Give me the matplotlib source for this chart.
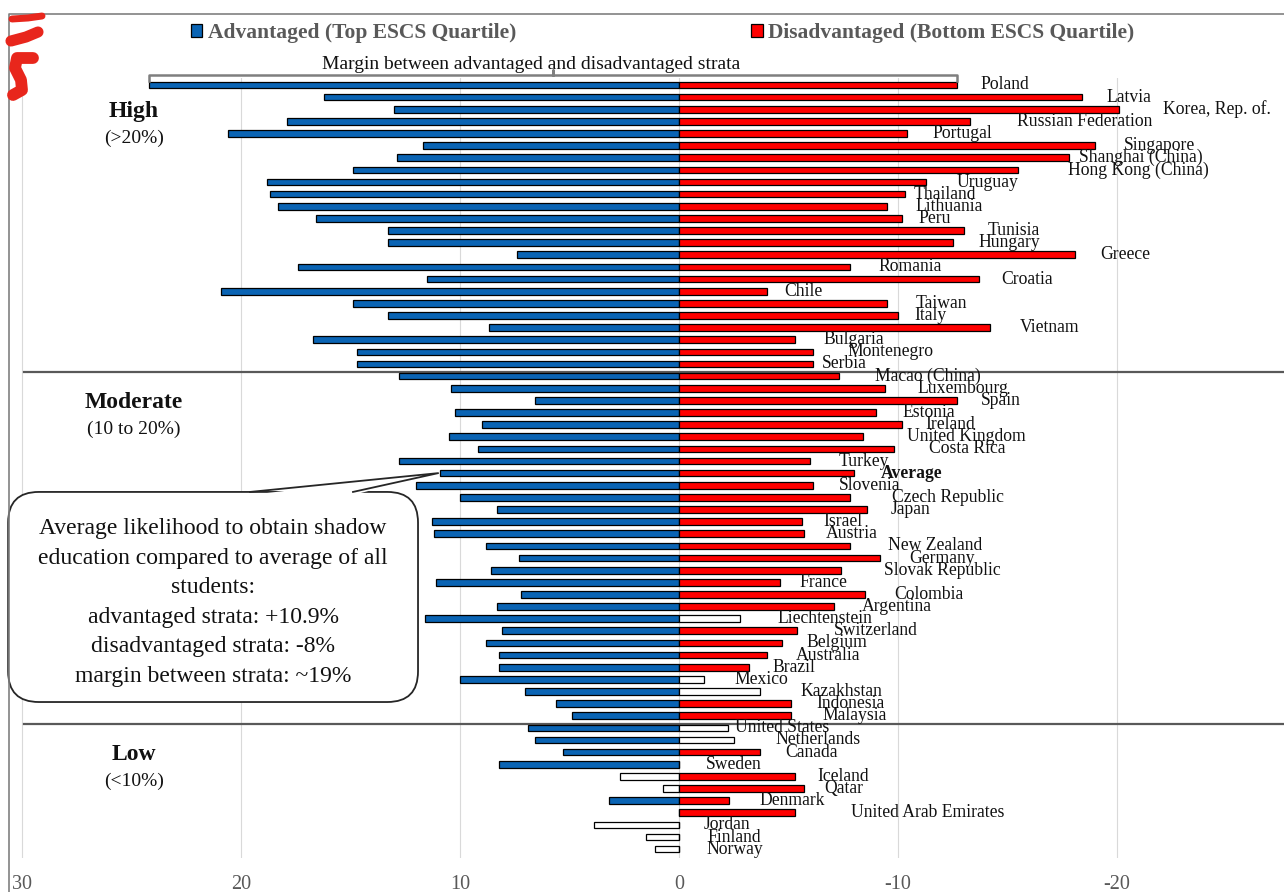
import numpy as np
import matplotlib.pyplot as plt
from matplotlib.patches import FancyBboxPatch, Polygon, Patch
from matplotlib.lines import Line2D

plt.rcParams['font.family'] = ['Liberation Serif', 'DejaVu Serif']

# likelihood of shadow education relative to all students (%), per stratum
countries = [
    "Poland", "Latvia", "Korea, Rep. of.", "Russian Federation", "Portugal",
    "Singapore", "Shanghai (China)", "Hong Kong (China)", "Uruguay", "Thailand",
    "Lithuania", "Peru", "Tunisia", "Hungary", "Greece", "Romania", "Croatia",
    "Chile", "Taiwan", "Italy", "Vietnam", "Bulgaria", "Montenegro", "Serbia",
    "Macao (China)", "Luxembourg", "Spain", "Estonia", "Ireland", "United Kingdom",
    "Costa Rica", "Turkey", "Average", "Slovenia", "Czech Republic", "Japan",
    "Israel", "Austria", "New Zealand", "Germany", "Slovak Republic", "France",
    "Colombia", "Argentina", "Liechtenstein", "Switzerland", "Belgium",
    "Australia", "Brazil", "Mexico", "Kazakhstan", "Indonesia", "Malaysia",
    "United States", "Netherlands", "Canada", "Sweden", "Iceland", "Qatar",
    "Denmark", "United Arab Emirates", "Jordan", "Finland", "Norway",
]
advantaged = [
    24.2, 16.2, 13.0, 17.9, 20.6, 11.7, 12.9, 14.9, 18.8, 18.7, 18.3, 16.6,
    13.3, 13.3, 7.4, 17.4, 11.5, 20.9, 14.9, 13.3, 8.7, 16.7, 14.7, 14.7,
    12.8, 10.4, 6.6, 10.25, 9.0, 10.5, 9.2, 12.8, 10.9, 12.0, 10.0, 8.3,
    11.3, 11.2, 8.8, 7.3, 8.6, 11.1, 7.2, 8.3, 11.6, 8.1, 8.8, 8.2, 8.2,
    10.0, 7.05, 5.6, 4.9,
    6.9, 6.6, 5.3, 8.2, 2.7, 0.75, 3.2, 0.0, 3.9, 1.5, 1.1,
]
disadvantaged = [
    -12.7, -18.4, -20.1, -13.3, -10.4, -19.0, -17.8, -15.5, -11.3, -10.3, -9.5,
    -10.2, -13.0, -12.5, -18.1, -7.8, -13.7, -4.0, -9.5, -10.0, -14.2, -5.3,
    -6.1, -6.1,
    -7.3, -9.4, -12.7, -9.0, -10.2, -8.4, -9.8, -6.0, -8.0, -6.1, -7.8, -8.6,
    -5.6, -5.7, -7.8, -9.2, -7.4, -4.6, -8.5, -7.1, -2.8, -5.4, -4.7, -4.0,
    -3.2, -1.15, -3.7, -5.1, -5.1,
    -2.25, -2.5, -3.7, 0.0, -5.3, -5.7, -2.3, -5.3, 0.0, 0.0, 0.0,
]
# 1 = significant (filled bar), 0 = not significant (open bar)
adv_sig = [1] * 57 + [0, 0, 1, 1, 0, 0, 0]
dis_sig = [1] * 44 + [0] + [1] * 4 + [0, 0, 1, 1, 0, 0] + [1] * 9

# label offsets (px) to the right of each bar end
label_dx = [
    23, 25, 44, 47, 26, 29, 10, 50, 30, 9, 28, 16, 24, 26, 25, 29, 22, 18,
    29, 16, 30, 28, 35, 9,
    36, 33, 24, 26, 23, 44, 35, 28, 27, 26, 42, 23, 22, 22, 38, 29, 43, 20,
    29, 27, 37, 37, 25, 29, 23, 30, 40, 26, 32,
    7, 42, 25, 27, 22, 20, 30, 56, 25, 28, 27,
]

groups = [("High", "(>20%)", 0), ("Moderate", "(10 to 20%)", 24), ("Low", "(<10%)", 53)]

W, H = 1284, 892
blue = '#0A64B4'
red = '#FF0000'

fig = plt.figure(figsize=(W / 100, H / 100), dpi=100)
ax = fig.add_axes([9 / W, 1 - 858 / H, (W - 9) / W, (858 - 78) / H])

rows = np.arange(len(countries))
adv_colors = [blue if s else 'white' for s in adv_sig]
dis_colors = [red if s else 'white' for s in dis_sig]
ax.barh(rows, advantaged, height=0.55, color=adv_colors, edgecolor='black',
        linewidth=0.9, zorder=3)
ax.barh(rows, disadvantaged, height=0.55, color=dis_colors, edgecolor='black',
        linewidth=0.9, zorder=3)

for i, (name, d, dx) in enumerate(zip(countries, disadvantaged, label_dx)):
    ax.annotate(name, xy=(min(d, 0), i), xytext=(dx, 0), textcoords='offset pixels',
                va='center', ha='left', fontsize=12.7, color='#111111',
                fontweight='bold' if name == "Average" else 'normal', zorder=4,
                annotation_clip=False)

ticks = [30, 20, 10, 0, -10, -20]
ax.set_xticks(ticks)
ax.set_xticklabels([str(t) for t in ticks])
ax.set_xlim(30.6, -27.63)
ax.set_ylim(63.73, -0.577)
ax.set_yticks([])
ax.grid(axis='x', color='#D9D9D9', linewidth=0.8)
ax.set_axisbelow(True)
ax.tick_params(axis='x', length=0, pad=12, labelsize=14.5, labelcolor='#595959')
for s in ax.spines.values():
    s.set_visible(False)

# group dividers and group titles
for title, sub, start in groups:
    if start > 0:
        ax.plot([29.9, -30], [start - 0.3] * 2, color='#595959', lw=1.6, zorder=2.5)
    ax.text(24.9, start + 2.2, title, ha='center', va='center', fontsize=17,
            fontweight='bold', color='#111111')
    ax.text(24.9, start + 4.4, sub, ha='center', va='center', fontsize=14,
            color='#111111')

# brace over the first row showing the margin between strata
b_left, b_right = advantaged[0], disadvantaged[0]
b_mid = (b_left + b_right) / 2
ax.plot([b_left, b_left, b_mid, b_mid, b_mid, b_right, b_right],
        [-0.33, -0.82, -0.82, -1.2, -0.82, -0.82, -0.33],
        color='#7F7F7F', lw=1.8, clip_on=False, zorder=4)
ax.text(b_mid + 1.0, -1.73, "Margin between advantaged and disadvantaged strata",
        ha='center', va='center', fontsize=14, color='#111111', clip_on=False)

# callout for the average row
avg = countries.index("Average")
a_adv, a_dis = advantaged[avg], disadvantaged[avg]
box_l, box_r, box_t, box_b = 30.64, 11.92, 33.55, 50.87
box = FancyBboxPatch((box_r, box_t), box_l - box_r, box_b - box_t,
                     boxstyle="round,pad=0,rounding_size=1.4",
                     mutation_aspect=21.9 / 12.13, facecolor='white',
                     edgecolor='#262626', lw=1.3, zorder=5, clip_on=False)
ax.add_patch(box)
tip = (a_adv + 0.1, avg)
w1, w2 = 19.59, 14.89
ax.add_patch(Polygon([(w1, box_t + 0.25), tip, (w2, box_t + 0.25)], closed=True,
                     facecolor='white', edgecolor='none', zorder=6))
ax.plot([w1, tip[0], w2], [box_t, tip[1], box_t], color='#262626', lw=1.3, zorder=7)
callout = ("Average likelihood to obtain shadow\n"
           "education compared to average of all\n"
           "students:\n"
           f"advantaged strata: +{a_adv:.1f}%\n"
           f"disadvantaged strata: {a_dis:.0f}%\n"
           f"margin between strata: ~{round(a_adv - a_dis)}%")
ax.text(21.28, 42.65, callout, ha='center', va='center', fontsize=17,
        linespacing=1.53, color='#111111', zorder=8)

# legend
handles = [Patch(facecolor=blue, edgecolor='black', lw=0.9),
           Patch(facecolor=red, edgecolor='black', lw=0.9)]
fig.legend(handles, ["Advantaged (Top ESCS Quartile)",
                     "Disadvantaged (Bottom ESCS Quartile)"],
           loc='center', bbox_to_anchor=(662.5 / W, 1 - 33 / H), ncol=2,
           frameon=False, handlelength=0.55, handleheight=0.55, handletextpad=0.25,
           columnspacing=10.9, borderpad=0,
           prop={'size': 15.5, 'weight': 'bold'}, labelcolor='#595959')

# chart border and red pen mark in the corner
def px(xs, ys):
    return [x / W for x in xs], [1 - y / H for y in ys]

fig.add_artist(Line2D(*px([9, 9, W], [H, 14, 14]), transform=fig.transFigure,
                      color='#808080', lw=1.2))
for xs, ys, lw in [([12, 28, 42], [19, 18, 16], 5),
                   ([11, 26, 38], [41, 37, 32], 8),
                   ([33, 17, 15, 21, 22, 13], [58, 58, 68, 80, 90, 95], 8.5)]:
    fig.add_artist(Line2D(*px(xs, ys), transform=fig.transFigure, color='#E8261C',
                          lw=lw, solid_capstyle='round', solid_joinstyle='round'))

fig.savefig('out.png', dpi=100)
